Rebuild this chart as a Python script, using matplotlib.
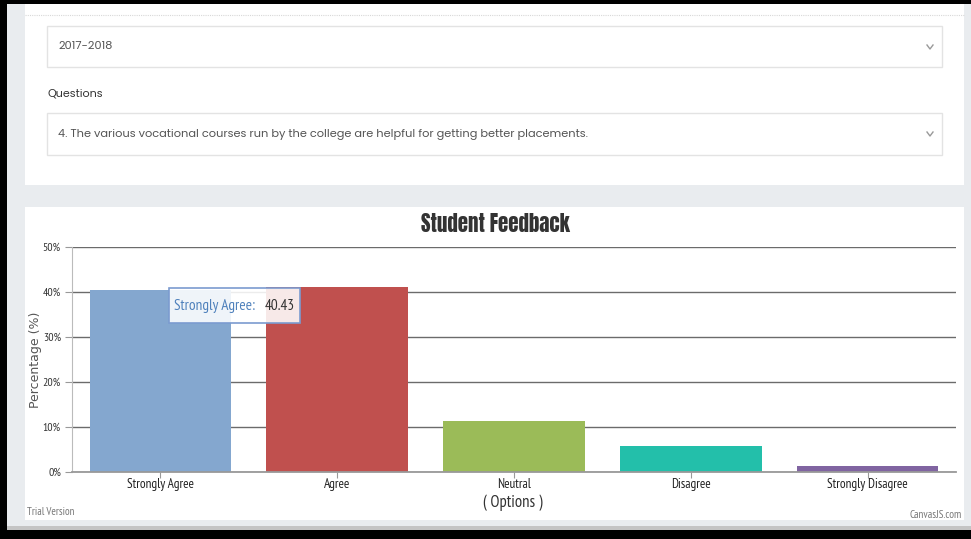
import numpy as np
import matplotlib.pyplot as plt
from matplotlib.patches import Rectangle

# ---------------------------------------------------------------------------
# Data
# ---------------------------------------------------------------------------
options = ['Strongly Agree', 'Agree', 'Neutral', 'Disagree', 'Strongly Disagree']
percentages = [40.43, 41.13, 11.35, 5.67, 1.42]
bar_colors = ['#84a7cf', '#c0504e', '#9bbb58', '#23bfaa', '#8064a1']
y_ticks = [0, 10, 20, 30, 40, 50]
y_tick_labels = ['0%', '10%', '20%', '30%', '40%', '50%']
session = '2017-2018'
question = ('4. The various vocational courses run by the college are '
            'helpful for getting better placements.')
hover_idx = 0

NARROW = ['PT Sans Narrow', 'DejaVu Sans']
TITLE_FONT = ['Anton', 'DejaVu Sans']
PAGE_FONT = ['Poppins', 'DejaVu Sans']

W, H = 971, 539
fig = plt.figure(figsize=(W / 100, H / 100), dpi=100)

# page backdrop, in pixel coordinates (y down)
page = fig.add_axes([0, 0, 1, 1])
page.set_xlim(0, W)
page.set_ylim(H, 0)
page.axis('off')
page.set_zorder(0)


def box(x0, y0, x1, y1, **kw):
    page.add_patch(Rectangle((x0, y0), x1 - x0, y1 - y0, **kw))


box(0, 0, W, H, facecolor='#e9ecef', edgecolor='none')
box(7, 526, W, 530, facecolor='#c4c4c4', edgecolor='none')
box(0, 0, 7, H, facecolor='black', edgecolor='none')
box(0, 0, W, 4, facecolor='black', edgecolor='none')
box(0, 530, W, H, facecolor='black', edgecolor='none')

# top card with the two selects
box(25, 4, 964, 185, facecolor='white', edgecolor='none')
page.plot([25, 964], [15, 15], color='#d8d8d8', lw=0.8, ls=(0, (1, 1)))
box(47, 26, 942, 67, facecolor='white', edgecolor='#e3e3e3', lw=1)
box(47, 113, 942, 155, facecolor='white', edgecolor='#e3e3e3', lw=1)
page.text(58, 46.5, session, fontsize=8.2, color='#555555',
          family=PAGE_FONT, va='center', ha='left')
page.text(47, 94.5, 'Questions', fontsize=8, color='#333333',
          family=PAGE_FONT, va='center', ha='left')
page.text(58, 134, question, fontsize=8.2, color='#555555',
          family=PAGE_FONT, va='center', ha='left')
for yc in (47, 134):
    page.plot([927, 930, 933], [yc - 2, yc + 2, yc - 2], color='#999999', lw=1)

# chart card
box(25, 207, 964, 520, facecolor='white', edgecolor='none')
page.text(495, 224, 'Student Feedback', fontsize=15, color='#333333',
          family=TITLE_FONT, ha='center', va='center')
page.text(27, 512, 'Trial Version', fontsize=7.8, color='#777777',
          family=NARROW, ha='left', va='center')
page.text(962, 515, 'CanvasJS.com', fontsize=8, color='#777777',
          family=NARROW, ha='right', va='center')
page.text(36, 360, 'Percentage (%)', fontsize=9, color='#555555',
          rotation=90, ha='center', va='center')
page.text(513, 503, '( Options )', fontsize=12, color='#333333',
          family=NARROW, ha='center', va='center')

# ---------------------------------------------------------------------------
# Chart
# ---------------------------------------------------------------------------
ax = fig.add_axes([72 / W, 1 - 472 / H, 884 / W, 225 / H])
ax.set_facecolor('none')
ax.set_zorder(1)
x = np.arange(len(options))
ax.bar(x, percentages, width=0.8, color=bar_colors, zorder=3)
ax.set_xlim(-0.5, len(options) - 0.5)
ax.set_ylim(0, 50)
ax.set_yticks(y_ticks)
ax.set_yticklabels(y_tick_labels, family=NARROW, fontsize=8.5, color='#333333')
ax.set_xticks(x)
ax.set_xticklabels(options, family=NARROW, fontsize=9.5, color='#222222')
ax.grid(axis='y', color='#6b6b6b', lw=1, zorder=1)
for s in ('top', 'right'):
    ax.spines[s].set_visible(False)
ax.spines['left'].set_color('#bbbbbb')
ax.spines['bottom'].set_color('#999999')
ax.spines['bottom'].set_linewidth(1.3)
ax.spines['bottom'].set_zorder(4)
ax.tick_params(axis='y', length=5, color='#999999', pad=3)
ax.tick_params(axis='x', length=4, color='#999999', pad=0)

# hover tooltip over the first bar
tip = fig.add_axes([0, 0, 1, 1])
tip.set_xlim(0, W)
tip.set_ylim(H, 0)
tip.axis('off')
tip.set_zorder(2)
tip.add_patch(Rectangle((169, 288), 131, 35, facecolor='white', alpha=0.88,
                        edgecolor='none'))
tip.add_patch(Rectangle((169, 288), 131, 35, facecolor='none',
                        edgecolor='#7b9bd0', lw=1.2))
tip.text(174, 306, f'{options[hover_idx]}:', fontsize=11, color='#4f81bc',
         family=NARROW, ha='left', va='center')
tip.text(265, 306, f'{percentages[hover_idx]:.2f}', fontsize=11, color='#333333',
         family=NARROW, ha='left', va='center')

fig.savefig('out.png', dpi=100)
